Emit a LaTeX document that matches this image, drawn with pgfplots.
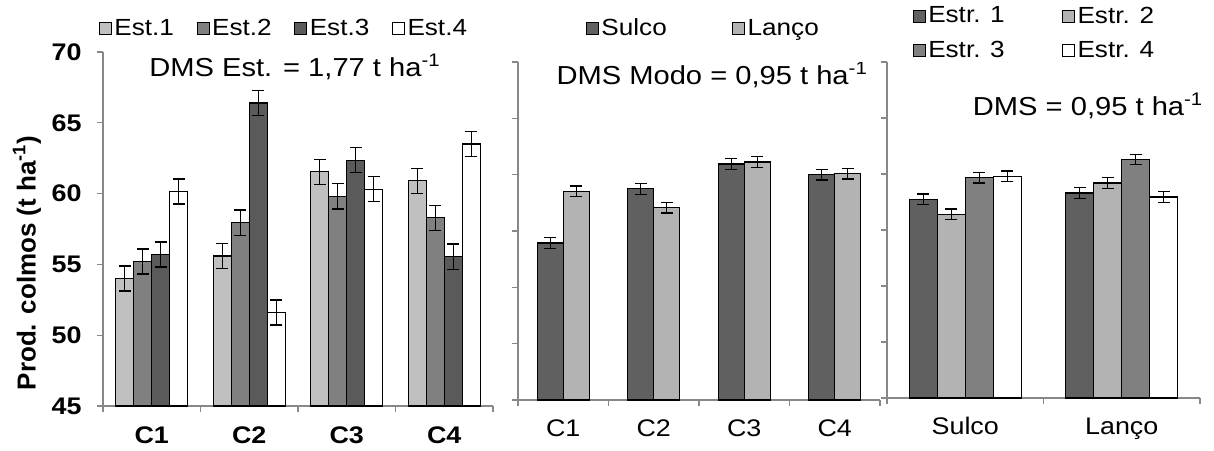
\documentclass[border=0pt]{standalone}
\usepackage{fontspec}
\setmainfont{Liberation Sans}[FakeStretch=1.12]
\newfontfamily\ylabfont{Liberation Sans}
\usepackage{pgfplots}
\usepackage{pgfplotstable}
\pgfplotsset{compat=1.18}

\definecolor{axisgray}{HTML}{888888}
\definecolor{gA}{HTML}{C0C0C0}
\definecolor{gB}{HTML}{808080}
\definecolor{gC}{HTML}{5A5A5A}
\definecolor{gD}{HTML}{606060}
\definecolor{gL}{HTML}{B3B3B3}

\pgfplotstableread{
x e1 e2 e3 e4 err
1 54.00 55.20 55.70 60.15 0.885
2 55.60 57.95 66.40 51.60 0.885
3 61.55 59.80 62.35 60.30 0.885
4 60.90 58.30 55.55 63.50 0.885
}\tabA

\pgfplotstableread{
x sulco lanco err
1 53.93 58.52 0.475
2 58.75 57.07 0.475
3 60.95 61.12 0.475
4 60.00 60.09 0.475
}\tabB

\pgfplotstableread{
x s1 s2 s3 s4 err
1 57.74 56.40 59.67 59.80 0.475
2 58.30 59.20 61.30 57.95 0.475
}\tabC

\pgfplotsset{
  common/.style={
    scale only axis,
    anchor=south west,
    axis x line*=bottom, axis y line*=left,
    axis line style={draw=axisgray, line width=0.8pt},
    tick align=outside,
    major tick length=4.5pt, minor tick length=4.5pt,
    major x tick style={draw=none},
    minor x tick style={draw=axisgray, line width=0.8pt},
    ytick style={draw=axisgray, line width=0.8pt},
    /pgf/number format/assume math mode=true,
    ybar=0pt,
    legend cell align=left,
    every axis plot/.append style={draw=black, line width=0.9pt,
      /pgfplots/error bars/y dir=both, /pgfplots/error bars/y explicit,
      /pgfplots/error bars/error bar style={black, line width=0.9pt},
      /pgfplots/error bars/error mark options={rotate=90, black, mark size=4.5pt, line width=0.9pt}},
  },
  sqleg/.style={legend image code/.code={\draw[##1, draw=black, line width=0.6pt] (0pt,-4.5pt) rectangle (9pt,4.5pt);}},
}

\begin{document}
\begin{tikzpicture}
\useasboundingbox (0,0) rectangle (910.5pt,337.5pt);

% ---------- Panel 1
\begin{axis}[common,
  at={(77.25pt,33pt)},
  width=292.5pt, height=265.5pt,
  ymin=45, ymax=70, ytick={45,50,...,70},
  xmin=0.5, xmax=4.5,
  xtick={1,2,3,4}, xticklabels={C1,C2,C3,C4},
  minor xtick={0.5,1.5,2.5,3.5,4.5},
  tick label style={font=\fontsize{18}{20}\selectfont\bfseries},
  yticklabel style={xshift=-8pt},
  xticklabel style={yshift=-7.5pt},
  bar width=13.5pt,
  ylabel={\ylabfont\fontsize{19.5}{22}\selectfont\bfseries Prod. colmos (t ha\textsuperscript{-1})},
  ylabel style={at={(axis description cs:-0.195,0.404)}, anchor=center},
  sqleg,
  legend columns=4,
  legend style={at={(0.465,1.066)}, anchor=center, draw=none, fill=none,
    font=\fontsize{17.5}{19}\selectfont, inner sep=0pt,
    nodes={inner sep=2pt},
    /tikz/every even column/.append style={column sep=15pt}},
]
\addplot[fill=gA] table[x=x, y=e1, y error=err] {\tabA};
\addplot[fill=gB] table[x=x, y=e2, y error=err] {\tabA};
\addplot[fill=gC] table[x=x, y=e3, y error=err] {\tabA};
\addplot[fill=white] table[x=x, y=e4, y error=err] {\tabA};
\legend{Est.1, Est.2, Est.3, Est.4}
\node[font=\fontsize{19.5}{22}\selectfont] at (rel axis cs:0.492,0.958) {DMS Est. = 1,77 t ha\textsuperscript{-1}};
\end{axis}

% ---------- Panel 2
\begin{axis}[common,
  at={(388.5pt,37.5pt)},
  width=271.5pt, height=253.5pt,
  ymin=40, ymax=70, ytick={40,45,...,70}, yticklabels={},
  xmin=0.5, xmax=4.5,
  xtick={1,2,3,4}, xticklabels={C1,C2,C3,C4},
  minor xtick={0.5,1.5,2.5,3.5,4.5},
  tick label style={font=\fontsize{18}{20}\selectfont},
  xticklabel style={yshift=-6pt, text height=13pt, text depth=4pt},
  bar width=19.5pt,
  sqleg,
  legend columns=2,
  legend style={at={(0.513,1.10)}, anchor=center, draw=none, fill=none,
    font=\fontsize{17.5}{19}\selectfont, inner sep=0pt,
    nodes={inner sep=2pt},
    /tikz/every even column/.append style={column sep=47pt}},
]
\addplot[fill=gD] table[x=x, y=sulco, y error=err] {\tabB};
\addplot[fill=gL] table[x=x, y=lanco, y error=err] {\tabB};
\legend{Sulco, Lanço}
\node[font=\fontsize{19.5}{22}\selectfont] at (rel axis cs:0.536,0.962) {DMS Modo = 0,95 t ha\textsuperscript{-1}};
\end{axis}

% ---------- Panel 3
\begin{axis}[common,
  at={(665.25pt,39pt)},
  width=234.75pt, height=252pt,
  ymin=40, ymax=70, ytick={40,45,...,70}, yticklabels={},
  xmin=0.5, xmax=2.5,
  xtick={1,2}, xticklabels={Sulco,Lanço},
  minor xtick={0.5,1.5,2.5},
  tick label style={font=\fontsize{18}{20}\selectfont},
  xticklabel style={yshift=-6pt, text height=13pt, text depth=4pt},
  bar width=21pt,
  sqleg,
  legend columns=2,
  legend style={at={(0.472,1.086)}, anchor=center, draw=none, fill=none,
    font=\fontsize{17.5}{19}\selectfont, inner sep=0pt,
    nodes={inner sep=2pt}, row sep=8pt,
    /tikz/every even column/.append style={column sep=41pt}},
]
\addplot[fill=gD] table[x=x, y=s1, y error=err] {\tabC};
\addplot[fill=gL] table[x=x, y=s2, y error=err] {\tabC};
\addplot[fill=gB] table[x=x, y=s3, y error=err] {\tabC};
\addplot[fill=white] table[x=x, y=s4, y error=err] {\tabC};
\legend{Estr. 1, Estr. 2, Estr. 3, Estr. 4}
\node[font=\fontsize{19.5}{22}\selectfont] at (rel axis cs:0.642,0.869) {DMS = 0,95 t ha\textsuperscript{-1}};
\end{axis}
\end{tikzpicture}
\end{document}
